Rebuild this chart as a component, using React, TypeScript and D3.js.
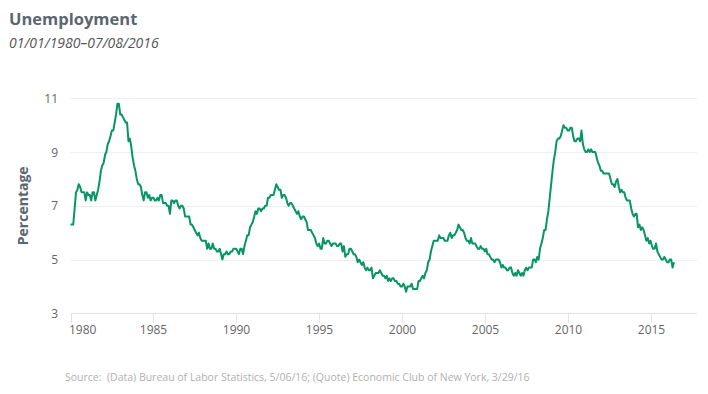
import { useEffect, useRef } from 'react';
import * as d3 from 'd3';

// US unemployment rate, monthly, Jan 1980 - Jun 2016
const startYear = 1980;
const monthlyRates = [
  6.3, 6.3, 6.3, 6.9, 7.5, 7.6, 7.8, 7.7, 7.5, 7.5, 7.5, 7.2, // 1980
  7.5, 7.4, 7.4, 7.2, 7.5, 7.5, 7.2, 7.4, 7.6, 7.9, 8.3, 8.5,
  8.6, 8.9, 9.0, 9.3, 9.4, 9.6, 9.8, 9.8, 10.1, 10.4, 10.8, 10.8,
  10.4, 10.4, 10.3, 10.2, 10.1, 10.1, 9.4, 9.5, 9.2, 8.8, 8.5, 8.3,
  8.0, 7.8, 7.8, 7.7, 7.4, 7.2, 7.5, 7.5, 7.3, 7.4, 7.2, 7.3,
  7.3, 7.2, 7.2, 7.3, 7.2, 7.4, 7.4, 7.1, 7.1, 7.1, 7.0, 7.0, // 1985
  6.7, 7.2, 7.2, 7.1, 7.2, 7.2, 7.0, 6.9, 7.0, 7.0, 6.9, 6.6,
  6.6, 6.6, 6.6, 6.3, 6.3, 6.2, 6.1, 6.0, 5.9, 6.0, 5.8, 5.7,
  5.7, 5.7, 5.7, 5.4, 5.6, 5.4, 5.4, 5.6, 5.4, 5.4, 5.3, 5.3,
  5.4, 5.2, 5.0, 5.2, 5.2, 5.3, 5.2, 5.2, 5.3, 5.3, 5.4, 5.4,
  5.4, 5.3, 5.2, 5.4, 5.4, 5.2, 5.5, 5.7, 5.9, 5.9, 6.2, 6.3, // 1990
  6.4, 6.6, 6.8, 6.7, 6.9, 6.9, 6.8, 6.9, 6.9, 7.0, 7.0, 7.3,
  7.3, 7.4, 7.4, 7.4, 7.6, 7.8, 7.7, 7.6, 7.6, 7.3, 7.4, 7.4,
  7.3, 7.1, 7.0, 7.1, 7.1, 7.0, 6.9, 6.8, 6.7, 6.8, 6.6, 6.5,
  6.6, 6.6, 6.5, 6.4, 6.1, 6.1, 6.1, 6.0, 5.9, 5.8, 5.6, 5.5,
  5.6, 5.4, 5.4, 5.8, 5.6, 5.6, 5.7, 5.7, 5.6, 5.5, 5.6, 5.6, // 1995
  5.6, 5.5, 5.5, 5.6, 5.6, 5.3, 5.5, 5.1, 5.2, 5.2, 5.4, 5.4,
  5.3, 5.2, 5.2, 5.1, 4.9, 5.0, 4.9, 4.8, 4.9, 4.7, 4.6, 4.7,
  4.6, 4.6, 4.7, 4.3, 4.4, 4.5, 4.5, 4.5, 4.6, 4.5, 4.4, 4.4,
  4.3, 4.4, 4.2, 4.3, 4.2, 4.3, 4.3, 4.2, 4.2, 4.1, 4.1, 4.0,
  4.0, 4.1, 4.0, 3.8, 4.0, 4.0, 4.0, 4.1, 3.9, 3.9, 3.9, 3.9, // 2000
  4.2, 4.2, 4.3, 4.4, 4.3, 4.5, 4.6, 4.9, 5.0, 5.3, 5.5, 5.7,
  5.7, 5.7, 5.7, 5.9, 5.8, 5.8, 5.8, 5.7, 5.7, 5.7, 5.9, 6.0,
  5.8, 5.9, 5.9, 6.0, 6.1, 6.3, 6.2, 6.1, 6.1, 6.0, 5.8, 5.7,
  5.7, 5.6, 5.8, 5.6, 5.6, 5.6, 5.5, 5.4, 5.4, 5.5, 5.4, 5.4,
  5.3, 5.4, 5.2, 5.2, 5.1, 5.0, 5.0, 4.9, 5.0, 5.0, 5.0, 4.9, // 2005
  4.7, 4.8, 4.7, 4.7, 4.6, 4.6, 4.7, 4.7, 4.5, 4.4, 4.5, 4.4,
  4.6, 4.5, 4.4, 4.5, 4.4, 4.6, 4.7, 4.6, 4.7, 4.7, 4.7, 5.0,
  5.0, 4.9, 5.1, 5.0, 5.4, 5.6, 5.8, 6.1, 6.1, 6.5, 6.8, 7.3,
  7.8, 8.3, 8.7, 9.0, 9.4, 9.5, 9.5, 9.6, 9.8, 10.0, 9.9, 9.9,
  9.8, 9.8, 9.9, 9.9, 9.6, 9.4, 9.4, 9.5, 9.5, 9.4, 9.8, 9.3, // 2010
  9.1, 9.0, 9.0, 9.1, 9.0, 9.1, 9.0, 9.0, 9.0, 8.8, 8.6, 8.5,
  8.3, 8.3, 8.2, 8.2, 8.2, 8.2, 8.2, 8.0, 7.8, 7.8, 7.7, 7.9,
  8.0, 7.7, 7.5, 7.6, 7.5, 7.5, 7.3, 7.2, 7.2, 7.2, 6.9, 6.7,
  6.6, 6.7, 6.7, 6.2, 6.3, 6.1, 6.2, 6.1, 5.9, 5.7, 5.8, 5.6,
  5.7, 5.5, 5.4, 5.4, 5.6, 5.3, 5.2, 5.1, 5.0, 5.0, 5.1, 5.0, // 2015
  4.9, 4.9, 5.0, 5.0, 4.7, 4.9,
];

const yTicks = [3, 5, 7, 9, 11];
const xTickYears = [1980, 1985, 1990, 1995, 2000, 2005, 2010, 2015];

const title = 'Unemployment';
const subtitle = '01/01/1980–07/08/2016';
const yLabel = 'Percentage';
const source = 'Source:  (Data) Bureau of Labor Statistics, 5/06/16; (Quote) Economic Club of New York, 3/29/16';

const W = 708;
const H = 394;
const plot = { left: 70.5, right: 697, top: 98.3, bottom: 313.3 };
const font = "'Open Sans', sans-serif";

export default function App() {
  const svgRef = useRef<SVGSVGElement>(null);

  useEffect(() => {
    if (!svgRef.current) return;
    const svg = d3.select(svgRef.current);
    svg.selectAll('*').remove();

    const data = monthlyRates.map((v, i) => ({
      date: new Date(startYear + Math.floor(i / 12), i % 12, 1),
      value: v,
    }));

    const x = d3
      .scaleTime()
      .domain([new Date(1980, 0, 1), new Date(2016, 5, 1)])
      .range([plot.left, 674]);

    const y = d3.scaleLinear().domain([3, 11]).range([plot.bottom, plot.top]);

    // grid lines
    svg
      .append('g')
      .selectAll('line')
      .data(yTicks)
      .enter()
      .append('line')
      .attr('x1', plot.left)
      .attr('x2', plot.right)
      .attr('y1', (d) => Math.round(y(d)) + 0.5)
      .attr('y2', (d) => Math.round(y(d)) + 0.5)
      .attr('stroke', (d) => (d === 3 ? '#e3e3e3' : '#efefef'))
      .attr('stroke-width', 1);

    // y tick labels
    svg
      .append('g')
      .selectAll('text')
      .data(yTicks)
      .enter()
      .append('text')
      .attr('x', 58)
      .attr('y', (d) => y(d) + 4.5)
      .attr('text-anchor', 'end')
      .attr('font-family', font)
      .attr('font-size', 12)
      .attr('fill', '#666')
      .text((d) => d);

    // x ticks + labels
    const xg = svg.append('g');
    xTickYears.forEach((yr, i) => {
      const px = Math.round(x(new Date(yr, 0, 1))) + 0.5;
      xg.append('line')
        .attr('x1', px)
        .attr('x2', px)
        .attr('y1', plot.bottom)
        .attr('y2', plot.bottom + 10)
        .attr('stroke', '#e3e3e3');
      xg.append('text')
        .attr('x', i === 0 ? px - 2.5 : px)
        .attr('y', plot.bottom + 21)
        .attr('text-anchor', i === 0 ? 'start' : 'middle')
        .attr('font-family', font)
        .attr('font-size', 12)
        .attr('fill', '#666')
        .text(yr);
    });

    // line
    const line = d3
      .line<{ date: Date; value: number }>()
      .x((d) => x(d.date))
      .y((d) => y(d.value));

    svg
      .append('path')
      .datum(data)
      .attr('d', line)
      .attr('fill', 'none')
      .attr('stroke', '#079467')
      .attr('stroke-width', 2)
      .attr('stroke-linejoin', 'round');

    // y axis title
    svg
      .append('text')
      .attr('transform', `translate(27.5,${(plot.top + plot.bottom) / 2}) rotate(-90)`)
      .attr('text-anchor', 'middle')
      .attr('font-family', font)
      .attr('font-size', 14)
      .attr('font-weight', 'bold')
      .attr('fill', '#5b6670')
      .text(yLabel);

    // title & subtitle
    svg
      .append('text')
      .attr('x', 9)
      .attr('y', 25)
      .attr('font-family', font)
      .attr('font-size', 16.5)
      .attr('font-weight', 'bold')
      .attr('fill', '#5b6670')
      .text(title);

    svg
      .append('text')
      .attr('x', 9)
      .attr('y', 48)
      .attr('font-family', font)
      .attr('font-size', 14)
      .attr('font-style', 'italic')
      .attr('fill', '#555')
      .text(subtitle);

    // source
    svg
      .append('text')
      .attr('x', 65)
      .attr('y', 381)
      .attr('font-family', font)
      .attr('font-size', 10.5)
      .attr('fill', '#b0b0b0')
      .style('white-space', 'pre')
      .text(source);
  }, []);

  return (
    <svg
      ref={svgRef}
      width={W}
      height={H}
      style={{ position: 'absolute', left: 0, top: 0, background: '#fff' }}
    />
  );
}
